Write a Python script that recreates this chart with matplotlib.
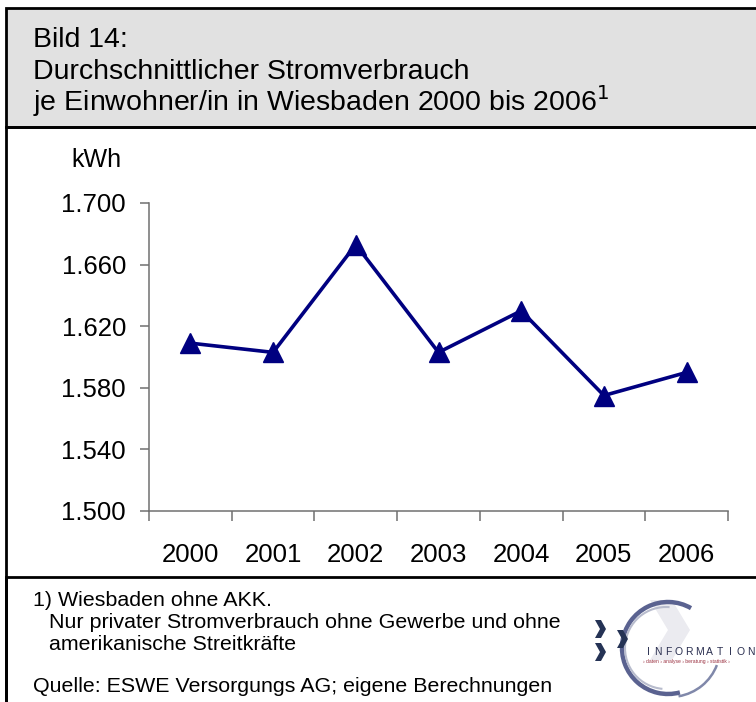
import numpy as np
import matplotlib
matplotlib.use("Agg")
import matplotlib.pyplot as plt
from matplotlib.patches import Rectangle, Arc, Polygon

plt.rcParams['font.family'] = ['Liberation Sans', 'DejaVu Sans']

# data
years = ['2000', '2001', '2002', '2003', '2004', '2005', '2006']
kwh = [1.609, 1.603, 1.673, 1.603, 1.630, 1.575, 1.590]
yticks = [1.500, 1.540, 1.580, 1.620, 1.660, 1.700]
ytick_labels = ['1.500', '1.540', '1.580', '1.620', '1.660', '1.700']

W, H = 756, 702
fig = plt.figure(figsize=(W / 100, H / 100), dpi=100)
fig.patch.set_facecolor('white')

def px(x, y):
    # pixel coords (top-left origin) -> figure fraction
    return x / W, 1 - y / H

# header band and frame lines
x0, y0 = px(6, 127)
x1, y1 = px(W + 10, 8)
fig.patches.append(Rectangle((x0, y0), x1 - x0, y1 - y0, transform=fig.transFigure,
                             facecolor='#e1e1e1', edgecolor='black', linewidth=2))
xa, ya = px(6, 577)
fig.patches.append(Rectangle((xa, -0.05), 1.1, ya + 0.05, transform=fig.transFigure,
                             facecolor='none', edgecolor='black', linewidth=2))
fig.patches.append(Rectangle((xa, -0.05), 1.1, y0 + 0.05, transform=fig.transFigure,
                             facecolor='none', edgecolor='black', linewidth=2))

title_lines = ['Bild 14:', 'Durchschnittlicher Stromverbrauch',
               'je Einwohner/in in Wiesbaden 2000 bis 2006$^{1}$']
for i, t in enumerate(title_lines):
    fig.text(*px(33, 47 + i * 32), t, fontsize=20.5, va='baseline', ha='left')

# chart axes
l, b = px(149, 511)
r, t = px(728, 203)
ax = fig.add_axes([l, b, r - l, t - b])
x = np.arange(len(years))
ax.plot(x, kwh, color='#000080', linewidth=2.6, marker='^', markersize=14.5,
        markerfacecolor='#000080', markeredgecolor='#000080', clip_on=False)
ax.set_xlim(-0.5, len(years) - 0.5)
ax.set_ylim(yticks[0], yticks[-1])
ax.set_yticks(yticks)
ax.set_yticklabels(ytick_labels)
ax.set_xticks(np.arange(len(years) + 1) - 0.5)
ax.set_xticklabels([])
ax.set_xticks(x, minor=True)
ax.set_xticklabels(years, minor=True)
ax.tick_params(axis='x', which='major', length=7.2, width=1.1, color='#707070', direction='out')
ax.tick_params(axis='x', which='minor', length=0, labelsize=18.5, pad=23)
ax.tick_params(axis='y', length=6.5, width=1.1, color='#707070', labelsize=18.5, pad=10)
for s in ['top', 'right']:
    ax.spines[s].set_visible(False)
for s in ['left', 'bottom']:
    ax.spines[s].set_color('#707070')
    ax.spines[s].set_linewidth(1.1)
fig.text(*px(71, 160), 'kWh', fontsize=18, va='center', ha='left')

# footnotes
foot = [('1) Wiesbaden ohne AKK.', 33, 601),
        ('Nur privater Stromverbrauch ohne Gewerbe und ohne', 49, 623),
        ('amerikanische Streitkräfte', 49, 645),
        ('Quelle: ESWE Versorgungs AG; eigene Berechnungen', 33, 686)]
for txt, fx, fy in foot:
    fig.text(*px(fx, fy), txt, fontsize=15.4, va='center', ha='left')

# logo (rough sketch)
lx0, ly0 = 585, 595
lax = fig.add_axes([px(lx0, ly0 + 105)[0], px(lx0, ly0 + 105)[1], (W - lx0) / W, 105 / H])
lax.set_xlim(lx0, W)
lax.set_ylim(ly0 + 105, ly0)
lax.axis('off')
lax.add_patch(Polygon([[650, 600], [672, 600], [690, 630], [672, 660], [650, 660], [668, 630]],
                      closed=True, facecolor='#ebebf0', edgecolor='none'))
lax.add_patch(Arc((668, 648), 92, 92, theta1=75, theta2=300, color='#5a6290', linewidth=3.2))
lax.add_patch(Arc((670, 648), 100, 98, theta1=20, theta2=80, color='#8088aa', linewidth=1.8))
lax.add_patch(Arc((666, 648), 82, 82, theta1=95, theta2=275, color='#b8bccd', linewidth=1.5))
for cx, cy in [(600, 629), (622, 639), (600, 652)]:
    lax.add_patch(Polygon([[cx - 5, cy - 9], [cx + 1, cy - 9], [cx + 6, cy], [cx + 1, cy + 9],
                           [cx - 5, cy + 9], [cx, cy]],
                          closed=True, facecolor='#253355', edgecolor='none'))
word = 'INFORMATION'
for k, ch in enumerate(word):
    lax.text(648 + k * 10.3, 652, ch, fontsize=7.5, color='#2a2f50', ha='center', va='center')
lax.text(643, 661, '› daten › analyse › beratung › statistik ›', fontsize=3.6, color='#9a3040',
         ha='left', va='center')

fig.savefig('out.png', dpi=100)
